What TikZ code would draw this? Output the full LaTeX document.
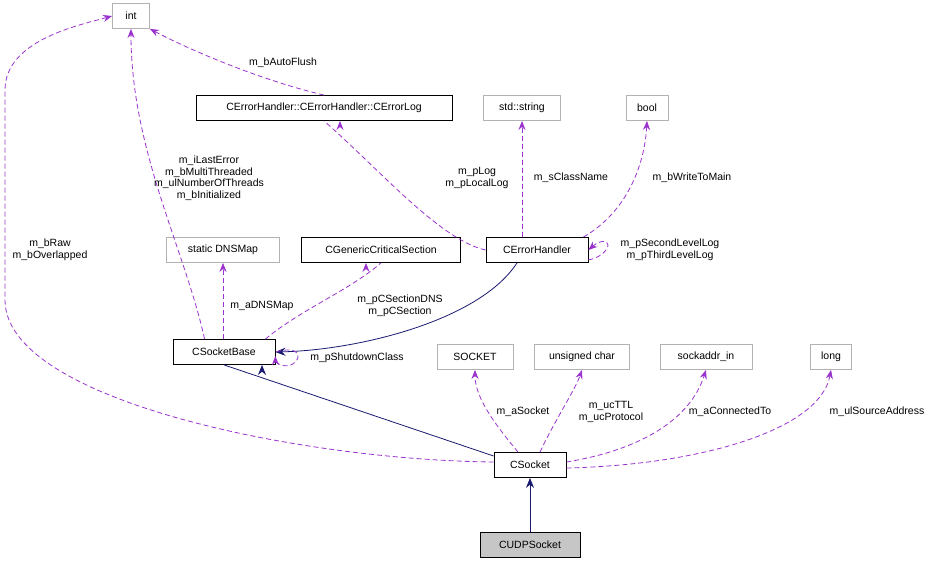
\documentclass[tikz,border=0pt]{standalone}
\usepackage{fontspec}
\setmainfont{Liberation Sans}
\usetikzlibrary{arrows.meta}
\begin{document}
\begin{tikzpicture}[x=1pt,y=-1pt,
  font=\fontsize{10.5}{12}\selectfont,
  box/.style={draw=black,fill=white,minimum height=25pt,inner sep=3pt,line width=0.8pt},
  gbox/.style={draw=gray!60,fill=white,minimum height=25pt,inner sep=3pt,line width=0.8pt},
  use/.style={draw={rgb,255:red,154;green,50;blue,205},dashed,dash pattern=on 5pt off 3pt,line width=0.8pt,-{Stealth[length=9pt,width=7pt]}},
  inh/.style={draw={rgb,255:red,25;green,25;blue,112},line width=0.8pt,-{Stealth[length=10pt,width=8pt]}},
  lab/.style={align=center,inner sep=1pt,font=\fontsize{10.5}{11.5}\selectfont}]
\useasboundingbox (0,0) rectangle (943,563);
\node[gbox,minimum width=37pt] (int) at (131,16) {int};
\node[box,minimum width=256pt] (log) at (324,108) {CErrorHandler::CErrorHandler::CErrorLog};
\node[gbox,minimum width=77pt] (str) at (522,108) {std::string};
\node[gbox,minimum width=42pt] (bool) at (647,108) {bool};
\node[gbox,minimum width=113pt] (dns) at (223,250) {static DNSMap};
\node[box,minimum width=159pt] (crit) at (381,250) {CGenericCriticalSection};
\node[box,minimum width=102pt] (eh) at (537,250) {CErrorHandler};
\node[box,minimum width=102pt] (sb) at (224,352) {CSocketBase};
\node[gbox,minimum width=76pt] (sock) at (475,357) {SOCKET};
\node[gbox,minimum width=95pt] (uc) at (582,357) {unsigned char};
\node[gbox,minimum width=92pt] (sa) at (706,357) {sockaddr\_in};
\node[gbox,minimum width=41pt] (long) at (831,357) {long};
\node[box,minimum width=72pt] (cs) at (530,465) {CSocket};
\node[box,fill=gray!45,minimum width=100pt] (udp) at (530,545) {CUDPSocket};

\draw[use] (log.north) .. controls (260,80) and (190,50) .. (int.south east);
\node[lab] at (283,63) {m\_bAutoFlush};
\draw[use] (sb.north west) ++(32,0) .. controls (185,250) and (131,150) .. (int.south);
\node[lab] at (209,178) {m\_iLastError\\m\_bMultiThreaded\\m\_ulNumberOfThreads\\m\_bInitialized};
\draw[use] (cs.west) ++(0,-3) .. controls (300,460) and (5,400) .. (5,300) -- (5,90) .. controls (5,40) and (80,25) .. (int.west);
\node[lab] at (50,250) {m\_bRaw\\m\_bOverlapped};
\draw[use] (eh.west) .. controls (440,240) and (380,170) .. (log.south) ++(16,0);
\node[lab] at (477,178) {m\_pLog\\m\_pLocalLog};
\draw[use] (eh.north -| str) -- (str.south);
\node[lab] at (571,178) {m\_sClassName};
\draw[use] (eh.north east) ++(-5,0) .. controls (630,210) and (645,160) .. (bool.south);
\node[lab] at (692,178) {m\_bWriteToMain};
\draw[use] (eh.south east) ++(0,-3) .. controls (600,258) and (608,250) .. (608,245) .. controls (608,240) and (600,240) .. (eh.east);
\node[lab] at (670,250) {m\_pSecondLevelLog\\m\_pThirdLevelLog};
\draw[use] (sb.north -| dns) -- (dns.south);
\node[lab] at (262,306) {m\_aDNSMap};
\draw[use] (sb.north east) ++(-10,0) .. controls (300,310) and (350,290) .. (crit.south) ++(-15,0);
\node[lab] at (400,306) {m\_pCSectionDNS\\m\_pCSection};
\draw[inh] (eh.south) ++(-20,0) .. controls (480,320) and (360,350) .. (sb.east);
\draw[use] (sb.south east) ++(0,-3) .. controls (290,372) and (298,360) .. (298,357) .. controls (298,350) and (290,348) .. (sb.east) ++(0,4);
\node[lab] at (357,358) {m\_pShutdownClass};
\draw[inh] (cs.west) ++(0,-9) -- (sb.south) ++(38,0);
\draw[use] (cs.north) ++(-12,0) .. controls (500,430) and (475,400) .. (sock.south);
\node[lab] at (523,412) {m\_aSocket};
\draw[use] (cs.north) ++(10,0) .. controls (555,420) and (575,390) .. (uc.south);
\node[lab] at (611,412) {m\_ucTTL\\m\_ucProtocol};
\draw[use] (cs.east) ++(0,-3) .. controls (640,450) and (690,420) .. (sa.south);
\node[lab] at (730,412) {m\_aConnectedTo};
\draw[use] (cs.east) ++(0,3) .. controls (700,465) and (820,430) .. (long.south);
\node[lab] at (877,412) {m\_ulSourceAddress};
\draw[inh] (udp) -- (cs);
\end{tikzpicture}
\end{document}
